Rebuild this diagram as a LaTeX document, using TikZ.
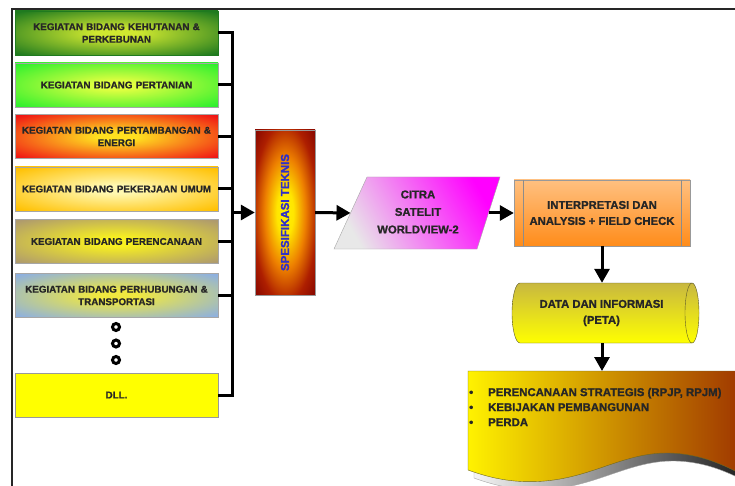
\documentclass[tikz,border=0pt]{standalone}
\usepackage{fontspec}
\setmainfont{Liberation Sans Bold}[FakeBold=1.2]
\usepackage{graphicx}
\usetikzlibrary{arrows.meta}
\definecolor{g1o}{HTML}{1F7A1F}\definecolor{g1i}{HTML}{D0E830}
\definecolor{g2o}{HTML}{2EF02E}\definecolor{g2i}{HTML}{E0FF40}
\definecolor{r3o}{HTML}{F01414}\definecolor{r3i}{HTML}{FFE020}
\definecolor{o4o}{HTML}{FFC000}\definecolor{o4i}{HTML}{FFF8B0}
\definecolor{t5o}{HTML}{AE9A6E}\definecolor{t5i}{HTML}{F8F020}
\definecolor{b6o}{HTML}{8DB0E0}\definecolor{b6i}{HTML}{F0E840}
\definecolor{y7}{HTML}{FFFF00}
\definecolor{spblue}{HTML}{3030C8}
\definecolor{intt}{HTML}{FFC080}\definecolor{intb}{HTML}{FF8C1A}
\definecolor{cylt}{HTML}{C8B840}\definecolor{cylb}{HTML}{FFFF00}
\definecolor{docl}{HTML}{FFF200}\definecolor{docm}{HTML}{D4A000}\definecolor{docr}{HTML}{9E3500}
\colorlet{glowin}{yellow}\colorlet{glowout}{red}
\pgfdeclareradialshading[glowin,glowout]{glow}{\pgfpoint{0bp}{0bp}}{color(0bp)=(glowin); color(5bp)=(glowin); color(34bp)=(glowout); color(50bp)=(glowout)}
\pgfdeclareradialshading{specglow}{\pgfpoint{0bp}{0bp}}{rgb(0bp)=(1,0.95,0); rgb(7bp)=(1,0.9,0); rgb(17bp)=(0.93,0.5,0); rgb(27bp)=(0.68,0.12,0); rgb(34bp)=(0.55,0.04,0); rgb(50bp)=(0.55,0.04,0)}
\begin{document}
\begin{tikzpicture}[x=1pt,y=-1pt,
  glowfill/.style 2 args={/utils/exec={\colorlet{glowin}{#1}\colorlet{glowout}{#2}}, shading=glow},
  kbox/.style={minimum width=203pt, minimum height=44pt, inner sep=0pt, text width=196pt, align=center,
    draw=black!35, line width=0.6pt, text=black!85, font=\fontsize{9.8}{12.5}\selectfont},
  bus/.style={line width=3pt},
  arr/.style={line width=3pt, -{Triangle[length=14pt,width=15pt]}},
  bigtxt/.style={font=\fontsize{11.3}{16}\selectfont, text=black!85, align=center, inner sep=0pt},
  dot/.style={circle, draw=black, line width=3pt, minimum size=7pt, inner sep=0pt, fill=white}
]
\useasboundingbox (0,0) rectangle (735,486);
\clip (0,0) rectangle (735,486);
\fill[white] (0,0) rectangle (735,486);
% frame
\draw[line width=2pt, black!85] (12,490) -- (12,9) -- (740,9);
% left boxes
\node[kbox, glowfill={g1i}{g1o}, draw=g1o] (k1) at (116.5,33) {KEGIATAN BIDANG KEHUTANAN \&\\PERKEBUNAN};
\node[kbox, glowfill={g2i}{g2o}] (k2) at (116.5,85) {KEGIATAN BIDANG PERTANIAN};
\node[kbox, glowfill={r3i}{r3o}] (k3) at (116.5,136.5) {KEGIATAN BIDANG PERTAMBANGAN \&\\ENERGI};
\node[kbox, glowfill={o4i}{o4o}] (k4) at (116.5,189) {KEGIATAN BIDANG PEKERJAAN UMUM};
\node[kbox, glowfill={t5i}{t5o}] (k5) at (116.5,241.5) {KEGIATAN BIDANG PERENCANAAN};
\node[kbox, glowfill={b6i}{b6o}] (k6) at (116.5,295.5) {KEGIATAN BIDANG PERHUBUNGAN \&\\TRANSPORTASI};
\node[kbox, fill=y7, draw=black!40] (k7) at (116.5,395) {DLL.};
\node[dot] (d1) at (116,327) {};
\node[dot] (d2) at (116,343.5) {};
\node[dot] (d3) at (116,360) {};
% bus
\coordinate (busx) at (232,0);
\draw[bus] (k1.east) -| (k7.east -| busx) -- (k7.east);
\foreach \k in {k2,k3,k4,k5,k6}{\draw[bus] (\k.east) -- (\k.east -| busx);}
% spesifikasi
\node[minimum width=60pt, minimum height=165pt, inner sep=0pt, shading=specglow, draw=black!40] (spec) at (285,212.5)
  {\rotatebox{90}{\color{spblue}\fontsize{11.5}{12}\selectfont SPESIFIKASI TEKNIS}};
\draw[arr] (busx |- spec.west) -- (spec.west);
% citra
\shade[draw=black!35, top color=gray!18, bottom color=magenta, shading angle=120]
  (334,249) -- (367,177) -- (500,177) -- (477,249) -- cycle;
\node[bigtxt, font=\fontsize{11.3}{17.5}\selectfont] (citra) at (418,212) {CITRA\\SATELIT\\WORLDVIEW-2};
\coordinate (citraW) at (350.5,213);
\coordinate (citraE) at (488.5,213);
\draw[arr] (spec.east) -- (citraW);
% interpretasi
\node[bigtxt, minimum width=176pt, minimum height=66pt, top color=intt, bottom color=intb, draw=black!40] (interp) at (602,213)
  {INTERPRETASI DAN\\ANALYSIS + FIELD CHECK};
\draw[black!45] ([xshift=9pt]interp.north west) -- ([xshift=9pt]interp.south west);
\draw[black!45] ([xshift=-9pt]interp.north east) -- ([xshift=-9pt]interp.south east);
\draw[arr] (citraE) -- (interp.west);
% cylinder
\shade[top color=cylt, bottom color=cylb, draw=black!45!olive]
  (520,283) -- (692,283) arc[start angle=-90, end angle=90, x radius=7, y radius=30]
  -- (520,343) arc[start angle=90, end angle=270, x radius=8, y radius=30] -- cycle;
\draw[black!45!olive] (692,283) arc[start angle=270, end angle=90, x radius=7, y radius=30];
\node[bigtxt, minimum height=60pt] (data) at (601.5,313) {DATA DAN INFORMASI\\(PETA)};
\draw[arr] (interp.south) -- (interp.south |- data.north);
% document
\coordinate (doctop) at (602,371);
\shade[draw=black!35, left color=gray!8, right color=black!90, shift={(6,8)}]
  (468,430) -- (468,470) .. controls (490,478) and (520,486) .. (560,479)
  .. controls (600,472) and (630,452) .. (670,453)
  .. controls (700,454) and (722,464) .. (745,476) -- (745,430) -- cycle;
\shade[draw=black!30!olive, left color=docl, middle color=docm, right color=docr]
  (468,371) -- (468,470) .. controls (490,478) and (520,486) .. (560,479)
  .. controls (600,472) and (630,452) .. (670,453)
  .. controls (700,454) and (722,464) .. (745,476) -- (745,371) -- cycle;
\draw[arr] (interp.south |- data.south) -- (doctop);
\node[anchor=west, inner sep=0pt, align=left, font=\fontsize{11.4}{15}\selectfont, text=black!85] (doc) at (469,407)
  {\makebox[19pt][l]{•}PERENCANAAN STRATEGIS (RPJP, RPJM)\\
   \makebox[19pt][l]{•}KEBIJAKAN PEMBANGUNAN\\
   \makebox[19pt][l]{•}PERDA};
\end{tikzpicture}
\end{document}
